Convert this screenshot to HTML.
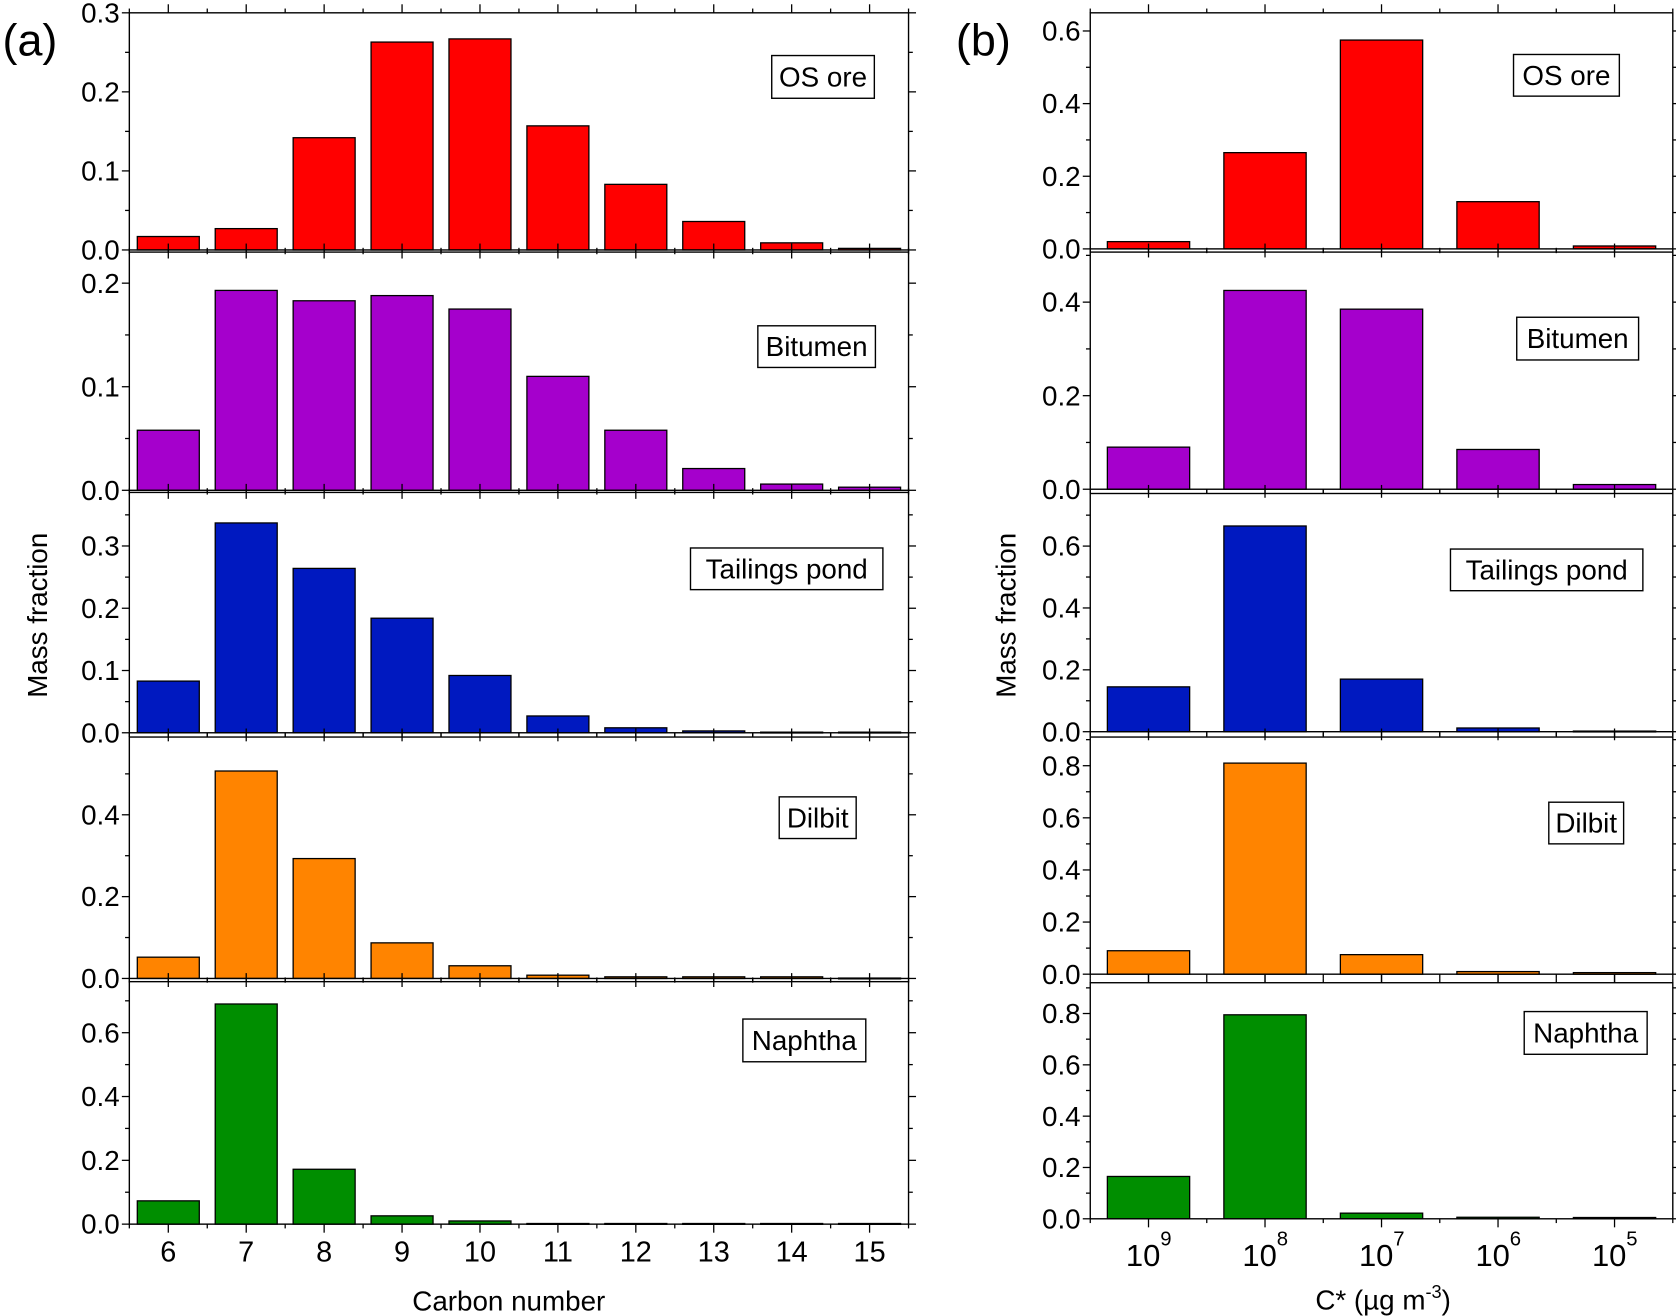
<!DOCTYPE html>
<html><head><meta charset="utf-8"><style>
html,body{margin:0;padding:0;background:#fff}
svg{display:block;font-family:"Liberation Sans",Arial,sans-serif}
</style></head><body>
<svg id="chart" width="1676" height="1316" viewBox="0 0 1568 1232" preserveAspectRatio="none" xmlns="http://www.w3.org/2000/svg"></svg>
<script>
const carbonCats = ["6","7","8","9","10","11","12","13","14","15"];
const cstarExp = ["9","8","7","6","5"];
const sampleNames = ["OS ore","Bitumen","Tailings pond","Dilbit","Naphtha"];
const colors = ["#ff0000","#a500cc","#0019c0","#ff8400","#008e00"];
const leftOS = [0.017,0.027,0.142,0.263,0.267,0.157,0.083,0.036,0.009,0.002];
const leftBit = [0.058,0.193,0.183,0.188,0.175,0.110,0.058,0.021,0.006,0.003];
const leftTail = [0.083,0.337,0.264,0.184,0.092,0.027,0.008,0.003,0.001,0.001];
const leftDil = [0.052,0.507,0.293,0.087,0.031,0.008,0.004,0.004,0.004,0.001];
const leftNap = [0.073,0.690,0.172,0.026,0.010,0.002,0.002,0.002,0.002,0.002];
const rightOS = [0.020,0.265,0.575,0.130,0.008];
const rightBit = [0.090,0.425,0.385,0.085,0.010];
const rightTail = [0.145,0.665,0.170,0.012,0.002];
const rightDil = [0.090,0.810,0.075,0.010,0.006];
const rightNap = [0.165,0.795,0.022,0.006,0.005];
const leftMax = [0.3,0.23,0.386,0.59,0.76];
const leftTickLabels = [["0.0","0.1","0.2","0.3"],["0.0","0.1","0.2"],["0.0","0.1","0.2","0.3"],["0.0","0.2","0.4"],["0.0","0.2","0.4","0.6"]];
const leftTickStep = [0.1,0.1,0.1,0.2,0.2];
const rightMax = [0.65,0.507,0.77,0.91,0.92];
const rightTickLabels = [["0.0","0.2","0.4","0.6"],["0.0","0.2","0.4"],["0.0","0.2","0.4","0.6"],["0.0","0.2","0.4","0.6","0.8"],["0.0","0.2","0.4","0.6","0.8"]];
const rightTickStep = [0.2,0.2,0.2,0.2,0.2];

const NS="http://www.w3.org/2000/svg";
const svg=document.getElementById('chart');
function mk(tag,attrs,parent){const e=document.createElementNS(NS,tag);for(const k in attrs)e.setAttribute(k,attrs[k]);(parent||svg).appendChild(e);return e;}

const panelsY=[[12,234],[236,459],[461,686],[690,916],[919,1146]];
const rPanelsY=[[12,233],[236,458],[462,685],[690,912],[920,1141]];
const leftData=[leftOS,leftBit,leftTail,leftDil,leftNap];
const rightData=[rightOS,rightBit,rightTail,rightDil,rightNap];
const leftBoxes=[[722,52,96,40],[709,305,110,39],[646,513,180,39],[729,746,72,39],[695,954,115,40]];
const rightBoxes=[[1416,51,99,39],[1419,297,114,40],[1357,514,180,39],[1449,751,70,39],[1426,947,115,40]];

function drawPanel(side,i,x0,x1,y0,y1,cats,vals,max,ticks,step,barW,box){
  const g=mk('g',{});
  
  
  const n=cats.length, bw=(x1-x0)/n;
  const xs=k=>x0+bw*(k+0.5);
  const ys=v=>y1-(v/max)*(y1-y0);
  vals.forEach((v,k)=>{
    const r=mk('rect',{x:xs(k)-barW/2,y:ys(v),width:barW,height:Math.max(y1-ys(v),0.8),fill:colors[i],stroke:'#000','stroke-width':1.2},g);
    
    
  });
  const fr=mk('rect',{x:x0,y:y0,width:x1-x0,height:y1-y0,fill:'none',stroke:'#000','stroke-width':1.3},g);
  
  
  for(let v=0;v<=max+1e-9;v+=step/2){
    const major=Math.abs(Math.round(v/step)*step-v)<1e-6;
    const L=major?7:4;
    mk('line',{x1:x0-L,x2:x0,y1:ys(v),y2:ys(v),stroke:'#000','stroke-width':1.2},g);
    mk('line',{x1:x1,x2:x1+L,y1:ys(v),y2:ys(v),stroke:'#000','stroke-width':1.2},g);
  }
  ticks.forEach((t,k)=>{
    const tx=mk('text',{x:x0-9,y:ys(k*step)+9,'text-anchor':'end','font-size':26},g);
    tx.textContent=t;
    
    
  });
  for(let k=0;k<=n*2;k++){
    const x=x0+bw*k/2, L=(k%2)?8:4;
    mk('line',{x1:x,x2:x,y1:y1,y2:y1+L,stroke:'#000','stroke-width':1.2},g);
    mk('line',{x1:x,x2:x,y1:y0,y2:y0-L,stroke:'#000','stroke-width':1.2},g);
  }
  const bx=mk('rect',{x:box[0],y:box[1],width:box[2],height:box[3],fill:'#fff',stroke:'#000','stroke-width':1.3},g);
  
  
  const lt=mk('text',{x:box[0]+box[2]/2,y:box[1]+box[3]/2+9,'text-anchor':'middle','font-size':26},g);
  lt.textContent=sampleNames[i];
  
  
  return xs;
}
let lxs,rxs;
for(let i=0;i<5;i++){
  lxs=drawPanel('left',i,121,850,panelsY[i][0],panelsY[i][1],carbonCats,leftData[i],leftMax[i],leftTickLabels[i],leftTickStep[i],58,leftBoxes[i]);
  rxs=drawPanel('right',i,1020,1565,rPanelsY[i][0],rPanelsY[i][1],cstarExp,rightData[i],rightMax[i],rightTickLabels[i],rightTickStep[i],77,rightBoxes[i]);
}
carbonCats.forEach((c,k)=>{
  const t=mk('text',{x:lxs(k),y:1181,'text-anchor':'middle','font-size':27});
  t.textContent=c;
  
  
});
cstarExp.forEach((c,k)=>{
  const t=mk('text',{x:rxs(k)-5,y:1185,'text-anchor':'middle','font-size':29});
  t.textContent='10';
  
  
  const s=mk('text',{x:rxs(k)+11,y:1166,'font-size':19});
  s.textContent=c;
  
  
});
function label(txt,x,y,size,name,rot){
  const t=mk('text',{x:x,y:y,'text-anchor':'middle','font-size':size});
  if(rot)t.setAttribute('transform','rotate(-90 '+x+' '+y+')');
  t.textContent=txt;
  
  
  return t;
}
label('Carbon number',476,1227,26,'x-axis-title-left');
const ct=label('',1294,1226,26,'x-axis-title-right');
ct.innerHTML='C* (µg m<tspan font-size="17" dy="-11">-3</tspan><tspan dy="11">)</tspan>';
label('Mass fraction',44,576,26,'y-axis-title-left',true);
label('Mass fraction',950,576,26,'y-axis-title-right',true);
label('(a)',28,52,42,'panel-label-a');
label('(b)',920,52,42,'panel-label-b');
</script>
</body></html>
